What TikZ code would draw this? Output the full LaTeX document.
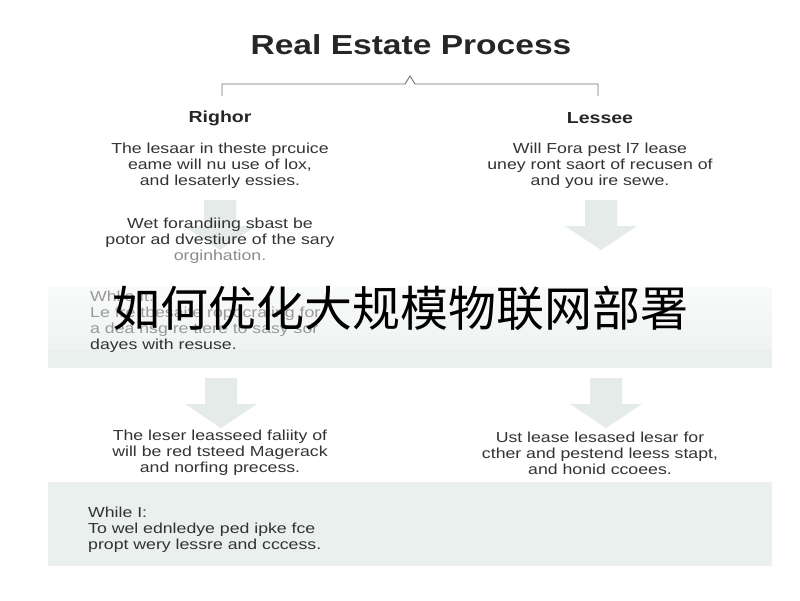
\documentclass[tikz,border=0pt]{standalone}
\usepackage{fontspec}
\setmainfont{Liberation Sans}[FakeStretch=1.22]
\newfontfamily\cjk{Noto Sans CJK SC}
\definecolor{band}{HTML}{EAF0EE}
\definecolor{arrc}{HTML}{E4EBE9}
\begin{document}
\begin{tikzpicture}[x=1pt,y=-1pt,
  body/.style={font=\fontsize{14.5}{16}\selectfont,text=black!80,align=center,inner sep=0},
  head/.style={font=\fontsize{16}{20}\selectfont\bfseries,text=black!85,inner sep=0}]
\useasboundingbox (0,0) rectangle (800,600);
\fill[white] (0,0) rectangle (800,600);
% bands
\shade[top color=band!30,bottom color=band!80] (48,287) rectangle (772,350);
\fill[band] (48,350) rectangle (772,368);
\fill[band] (48,482) rectangle (772,566);
% arrows
\foreach \cx/\y in {220/200,601/200,221/378,606/378}{
  \fill[arrc] (\cx-16,\y) rectangle (\cx+16,\y+26) -- (\cx+36,\y+26) -- (\cx,\y+50) -- (\cx-36,\y+26) -- cycle;}
\node[font=\fontsize{27.5}{30}\selectfont\bfseries,text=black!85] (title) at (411,45) {Real Estate Process};
\draw[black!55,line width=0.9pt] (222,96) -- (222,84) -- (405,84) -- (410,76) -- (415,84) -- (598,84) -- (598,96);
\coordinate (bl) at (222,96); \coordinate (br) at (598,96);
\node[head] (h1) at (220,118) {Righor};
\node[head] (h2) at (600,118) {Lessee};
\node[body] (t1) at (220,166) {The lesaar in theste prcuice\\eame will nu use of lox,\\and lesaterly essies.};
\node[body] (t2) at (600,166) {Will Fora pest l7 lease\\uney ront saort of recusen of\\and you ire sewe.};
\node[body] (t3) at (220,241) {Wet forandiing sbast be\\potor ad dvestiure of the sary\\\textcolor{black!45}{orginhation.}};
\node[body,align=left,text=black!40,anchor=west] (t4) at (90,322) {Whlle It:\\Le fre tbesaite ropocraiing for\\a dea nsg re tiere to sasy sor\\\textcolor{black!80}{dayes with resuse.}};
\node[body] (t5) at (220,453) {The leser leasseed faliity of\\will be red tsteed Magerack\\and norfing precess.};
\node[body] (t6) at (600,453) {Ust lease lesased lesar for\\cther and pestend leess stapt,\\and honid ccoees.};
\node[body,align=left,anchor=west] (t7) at (88,530) {While I:\\To wel ednledye ped ipke fce\\propt wery lessre and cccess.};
\node[font=\cjk\fontsize{48}{52}\selectfont,text=black,inner sep=0] (ov) at (400,308) {如何优化大规模物联网部署};
\end{tikzpicture}
\end{document}
